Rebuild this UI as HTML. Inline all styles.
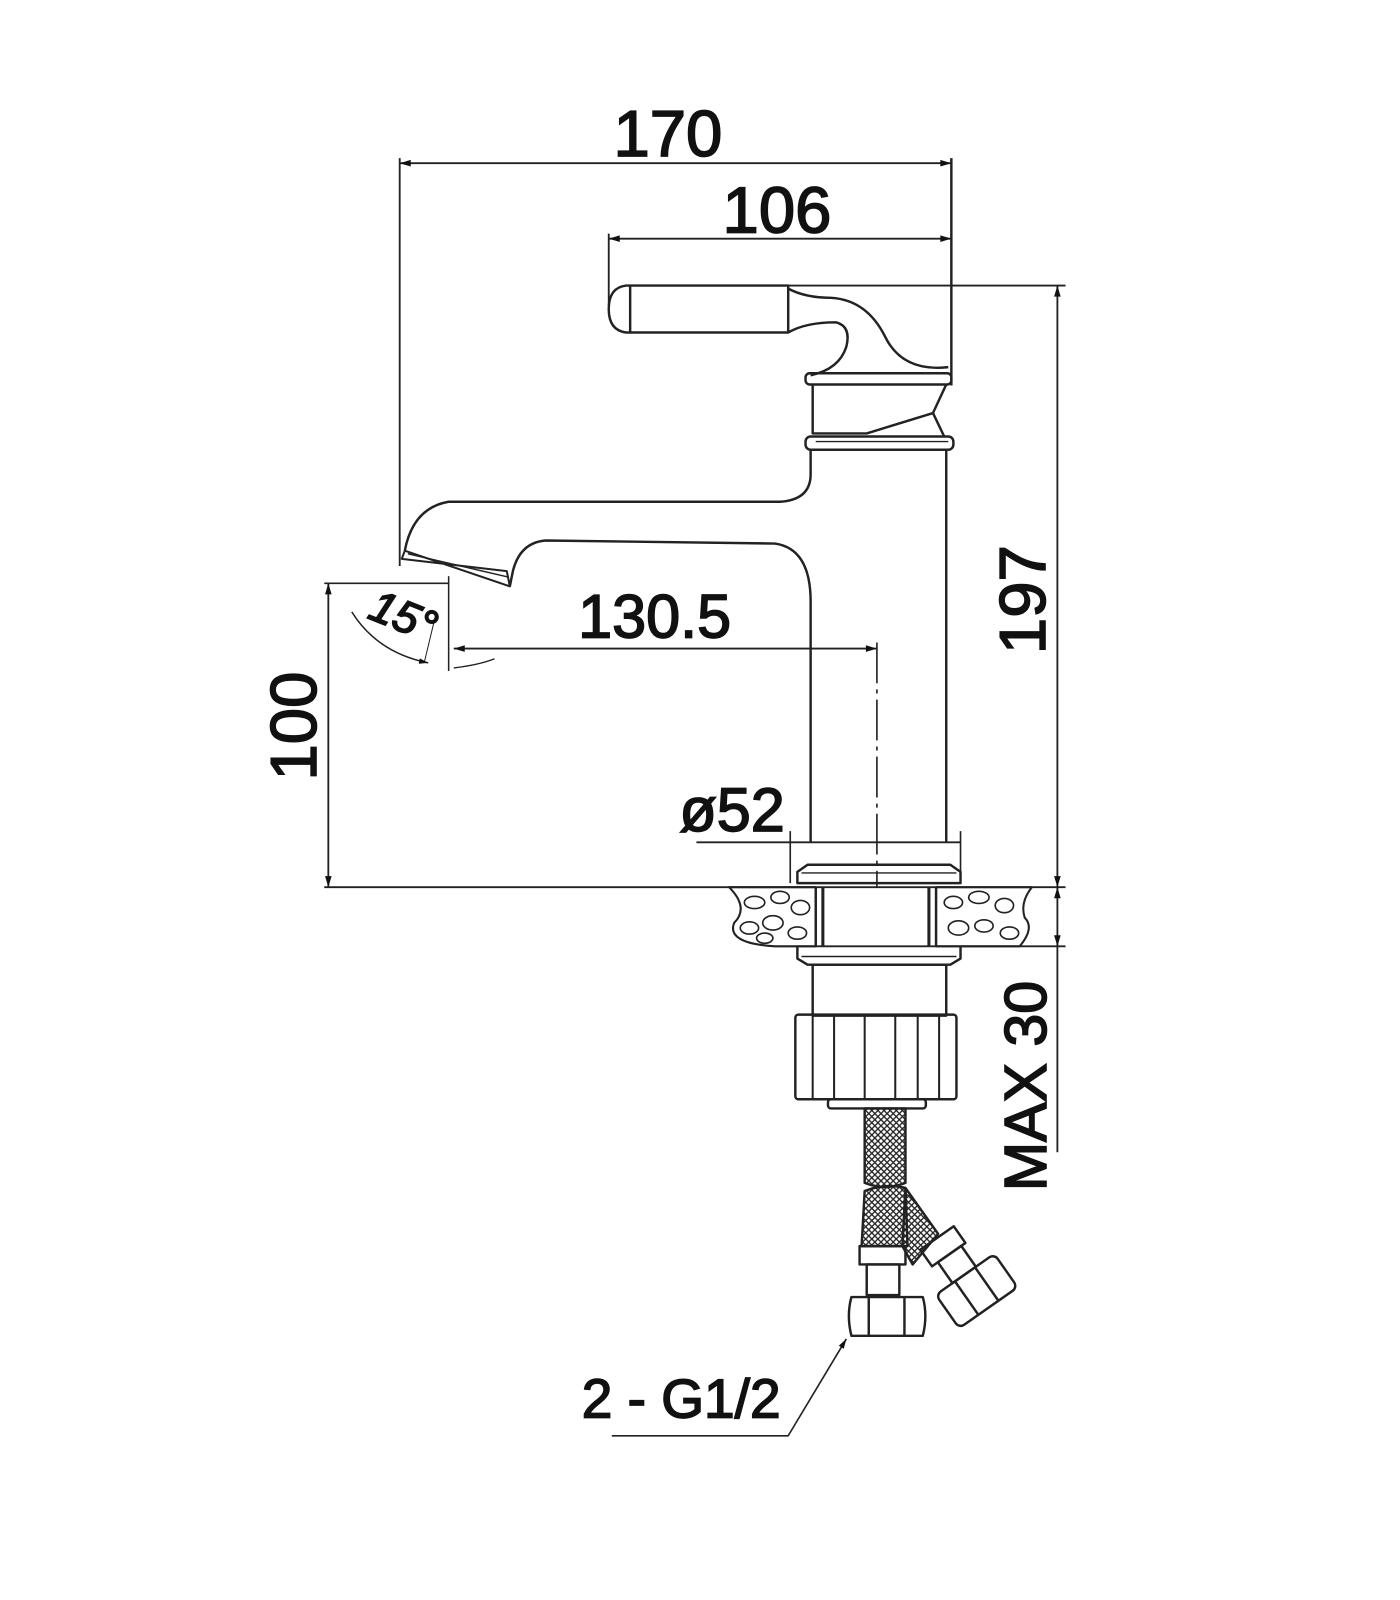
<!DOCTYPE html>
<html><head><meta charset="utf-8"><style>html,body{margin:0;padding:0;background:#fff}svg{display:block}</style></head><body>
<svg width="1400" height="1600" viewBox="0 0 1373 1569" xmlns="http://www.w3.org/2000/svg">
<defs>
<pattern id="br" width="6" height="6" patternUnits="userSpaceOnUse"><path d="M0 0L6 6M6 0L0 6" stroke="#222" stroke-width="1.3"/></pattern>
<marker id="a" viewBox="0 0 10 10" refX="10" refY="5" markerWidth="10" markerHeight="6" orient="auto-start-reverse"><path d="M0 2L10 5L0 8z" fill="#111"/></marker>
</defs>
<g fill="none" stroke="#222" stroke-width="2.4" stroke-linejoin="round">
<line x1="392" y1="160" x2="933" y2="160" marker-start="url(#a)" marker-end="url(#a)" stroke-width="1.8"/>
<line x1="392" y1="155" x2="392" y2="555" stroke-width="1.8"/>
<line x1="933" y1="155" x2="933" y2="378"/>
<line x1="597" y1="234" x2="933" y2="234" marker-start="url(#a)" marker-end="url(#a)" stroke-width="1.8"/>
<line x1="597" y1="229" x2="597" y2="300" stroke-width="1.8"/>
<path d="M614 280 Q597 282 597 303 Q597 324 614 326 L773 326 L773 280 Z"/>
<line x1="618" y1="280" x2="618" y2="326"/>
<line x1="773" y1="280" x2="1045" y2="280" stroke-width="1.8"/>
<path d="M773 283 Q790 292 815 292 Q850 294 868 330 Q885 365 930 360"/>
<path d="M773 326 Q790 316 820 316 Q835 320 830 340 Q823 362 795 368"/>
<rect x="790" y="366" width="143" height="11" rx="4"/>
<path d="M797 377 L797 425 L850 425 L915 405 L928 377"/>
<line x1="915" y1="405" x2="926" y2="428"/>
<rect x="790" y="428" width="145" height="13" rx="5"/>
<line x1="800" y1="433" x2="930" y2="433" stroke-width="1.4"/>
<line x1="928" y1="441" x2="928" y2="826"/>
<path d="M795 441 L795 465 Q795 490 765 492 L440 492 Q405 498 397 540"/>
<path d="M397 540 L500 575 L497 560 L394 548 Z" stroke-width="2"/>
<path d="M400 543 L499 566" stroke-width="1.4"/>
<path d="M500 575 L503 560 Q510 532 535 530 L760 533 Q795 538 795 590 L795 826"/>
<line x1="318" y1="572" x2="440" y2="572" stroke-width="1.5"/>
<line x1="440" y1="565" x2="440" y2="658" stroke-width="1.5"/>
<line x1="428" y1="600" x2="416" y2="650" stroke-width="1"/>
<path d="M345 600 Q370 640 420 650" stroke-width="1.5" marker-end="url(#a)"/>
<path d="M445 655 Q470 652 485 646" stroke-width="1.3"/>
<line x1="445" y1="636" x2="860" y2="636" marker-start="url(#a)" marker-end="url(#a)" stroke-width="1.8"/>
<line x1="860" y1="630" x2="860" y2="870" stroke-width="1.6" stroke-dasharray="40 6 4 6"/>
<line x1="322" y1="572" x2="322" y2="870" marker-start="url(#a)" marker-end="url(#a)" stroke-width="1.8"/>
<line x1="683" y1="826" x2="942" y2="826" stroke-width="1.8"/>
<line x1="775" y1="815" x2="775" y2="866" stroke-width="1.6"/>
<line x1="942" y1="815" x2="942" y2="866" stroke-width="1.6"/>
<path d="M782 866 L782 855 L792 848 L932 848 L942 855 L942 866 Z"/>
<line x1="786" y1="856" x2="938" y2="856" stroke-width="1.4"/>
<line x1="318" y1="870" x2="1045" y2="870" stroke-width="1.8"/>
<line x1="780" y1="928" x2="1045" y2="928" stroke-width="1.8"/>
<path d="M715 870 Q735 890 720 905 Q712 925 760 928 L800 928 L800 870 Z" stroke-width="2"/>
<path d="M918 870 L918 928 L1000 928 Q1015 910 1005 900 Q1000 885 1012 870 Z" stroke-width="2"/>
<g stroke-width="1.6">
<ellipse cx="740" cy="885" rx="10" ry="6"/><ellipse cx="765" cy="880" rx="9" ry="6"/><ellipse cx="785" cy="890" rx="9" ry="7"/>
<ellipse cx="735" cy="910" rx="9" ry="6"/><ellipse cx="758" cy="905" rx="10" ry="7"/><ellipse cx="782" cy="915" rx="9" ry="6"/><ellipse cx="750" cy="920" rx="8" ry="5"/>
<ellipse cx="935" cy="885" rx="9" ry="6"/><ellipse cx="960" cy="880" rx="10" ry="6"/><ellipse cx="985" cy="888" rx="9" ry="7"/>
<ellipse cx="940" cy="910" rx="10" ry="7"/><ellipse cx="965" cy="908" rx="9" ry="6"/><ellipse cx="990" cy="915" rx="9" ry="6"/>
</g>
<line x1="800" y1="870" x2="800" y2="928"/><line x1="807" y1="870" x2="807" y2="928" stroke-width="3"/>
<line x1="918" y1="870" x2="918" y2="928"/><line x1="911" y1="870" x2="911" y2="928" stroke-width="3"/>
<path d="M782 928 L782 940 L792 946 L932 946 L942 940 L942 928"/>
<line x1="786" y1="938" x2="938" y2="938" stroke-width="1.4"/>
<rect x="797" y="946" width="131" height="50"/>
<rect x="780" y="995" width="158" height="83" rx="3"/>
<g stroke-width="2"><line x1="797" y1="995" x2="797" y2="1078"/><line x1="818" y1="995" x2="818" y2="1078"/><line x1="848" y1="995" x2="848" y2="1078"/><line x1="878" y1="995" x2="878" y2="1078"/><line x1="900" y1="995" x2="900" y2="1078"/><line x1="921" y1="995" x2="921" y2="1078"/></g>
<rect x="812" y="1078" width="96" height="9" rx="3"/>
<path d="M848 1087 L888 1087 L888 1160 Q868 1168 848 1160 Z" fill="url(#br)"/>
<path d="M848 1168 Q868 1160 888 1165 L890 1222 L845 1222 Z" fill="url(#br)"/>
<path d="M888 1165 L920 1210 L895 1240 L885 1222 Z" fill="url(#br)"/>
<rect x="843" y="1222" width="45" height="18"/>
<rect x="850" y="1240" width="32" height="30"/>
<path d="M835 1272 Q830 1290 835 1310 L905 1310 Q910 1290 905 1272 Z"/>
<line x1="852" y1="1272" x2="852" y2="1310"/><line x1="887" y1="1272" x2="887" y2="1310"/>
<g transform="translate(955 1262) rotate(-35)">
<rect x="-22" y="-60" width="40" height="20"/>
<rect x="-15" y="-40" width="28" height="25"/>
<rect x="-35" y="-15" width="70" height="40" rx="6"/>
<line x1="-12" y1="-15" x2="-12" y2="25"/><line x1="12" y1="-15" x2="12" y2="25"/>
</g>
<polyline points="600,1408 773,1408 830,1313" stroke-width="1.6" marker-end="url(#a)"/>
<line x1="1037" y1="280" x2="1037" y2="870" marker-start="url(#a)" marker-end="url(#a)" stroke-width="1.8"/>
<line x1="1037" y1="870" x2="1037" y2="928" marker-start="url(#a)" marker-end="url(#a)" stroke-width="1.8"/>
<line x1="1037" y1="928" x2="1037" y2="1130" stroke-width="1.8"/>
</g>
<g font-family="Liberation Sans, Arial, sans-serif" fill="#111" stroke="#111" stroke-width="1.6" text-anchor="middle">
<text x="655" y="153" font-size="64">170</text>
<text x="762" y="228" font-size="64">106</text>
<text x="642" y="625" font-size="60">130.5</text>
<text x="718" y="815" font-size="60">ø52</text>
<text x="668" y="1390" font-size="54">2 - G1/2</text>
<text transform="translate(1025 588) rotate(-90)" font-size="64">197</text>
<text transform="translate(310 712) rotate(-90)" font-size="64">100</text>
<text transform="translate(1026 1065) rotate(-90)" font-size="58">MAX 30</text>
<text transform="translate(390 618) rotate(22)" font-size="44" font-style="italic">15°</text>
</g>
</svg>
</body></html>
